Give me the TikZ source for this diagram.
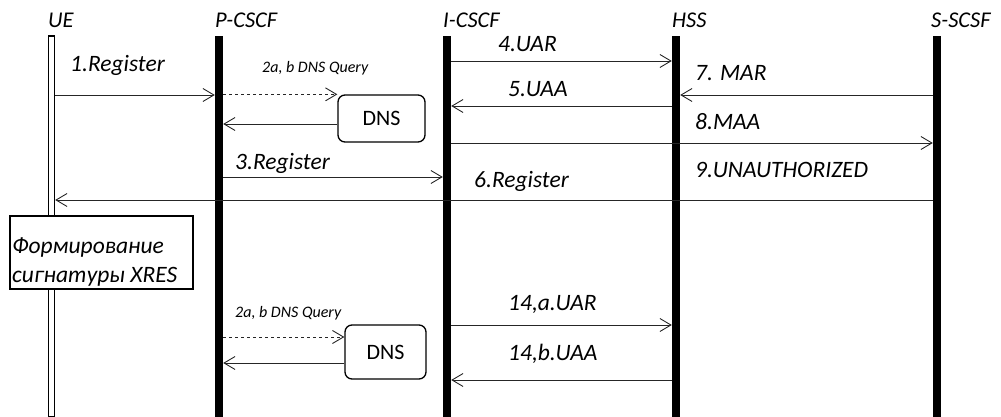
\documentclass[tikz,border=0pt]{standalone}
\usepackage{fontspec}
\setmainfont{Carlito}
\usetikzlibrary{arrows.meta}
\begin{document}
\begin{tikzpicture}[x=1pt,y=-1pt,
  bar/.style={fill=black,inner sep=0,minimum width=8pt,minimum height=381pt},
  uebar/.style={draw=black,line width=1.4pt,fill=white,inner sep=0,minimum width=6pt,minimum height=381pt},
  head/.style={anchor=base west,inner sep=0,font=\fontsize{22.5}{26}\selectfont\itshape},
  lbl/.style={anchor=base west,inner sep=0,font=\fontsize{23.5}{27}\selectfont\itshape},
  smalllbl/.style={anchor=base west,inner sep=0,font=\fontsize{16}{19}\selectfont\itshape},
  msg/.style={draw=black!85,line width=0.9pt,-{Straight Barb[length=11pt,width=13pt,line width=0.9pt]}},
  dmsg/.style={msg,dashed},
  dnsbox/.style={draw,line width=1.3pt,rounded corners=7pt,inner sep=0,font=\fontsize{22}{25}\selectfont},
  notebox/.style={draw,line width=1.3pt,fill=white,inner sep=0,minimum width=183pt,minimum height=73pt}
]
\useasboundingbox (0,0) rectangle (1001,417);
% lifelines
\node[uebar] (ue) at (51.5,226.5) {};
\node[bar] (p) at (219,226.5) {};
\node[bar] (i) at (447,226.5) {};
\node[bar] (h) at (676,226.5) {};
\node[bar] (s) at (937,226.5) {};
% headers
\node[head] (hue) at (48,28) {UE};
\node[head] (hp) at (215,28) {P-CSCF};
\node[head] (hi) at (443,28) {I-CSCF};
\node[head] (hh) at (672,28) {HSS};
\node[head] (hs) at (931,28) {S-SCSF};
% DNS boxes
\node[dnsbox,minimum width=87pt,minimum height=47pt] (dns1) at (381.5,118.5) {DNS};
\node[dnsbox,minimum width=81pt,minimum height=54pt] (dns2) at (385.5,352) {DNS};
% messages
\draw[msg] (ue.east |- 0,95) -- (p.west |- 0,95);
\node[lbl] (l1) at (70,72) {1.Register};
\draw[dmsg] (p.east |- dns1.north west) -- (dns1.north west);
\node[smalllbl] (l2) at (262,73) {2a, b DNS Query};
\draw[msg] (dns1.west |- 0,124) -- (p.east |- 0,124);
\draw[msg] (p.east |- 0,177) -- (i.west |- 0,177);
\node[lbl] (l3) at (235,169) {3.Register};
\draw[msg] (i.east |- 0,61) -- (h.west |- 0,61);
\node[lbl] (l4) at (498,52) {4.UAR};
\draw[msg] (h.west |- 0,106) -- (i.east |- 0,106);
\node[lbl] (l5) at (508,97) {5.UAA};
\draw[msg] (s.west |- 0,95) -- (h.east |- 0,95);
\node[lbl] (l7) at (695,81) {7. MAR};
\draw[msg] (i.east |- 0,143) -- (s.west |- 0,143);
\node[lbl] (l8) at (695,130) {8.MAA};
\draw[msg] (s.west |- 0,200) -- (ue.east |- 0,200);
\node[lbl] (l9) at (695,177) {9.UNAUTHORIZED};
\node[lbl] (l6) at (474,187) {6.Register};
% note
\node[notebox] (note) at (101.5,252.5) {};
\node[lbl] (n1) at (12,253) {Формирование};
\node[lbl] (n2) at (12,282) {сигнатуры XRES};
% second part
\draw[dmsg] (p.east |- 0,337) -- (dns2.west |- 0,337);
\node[smalllbl] (l2b) at (235,317) {2a, b DNS Query};
\draw[msg] (dns2.west |- 0,363) -- (p.east |- 0,363);
\draw[msg] (i.east |- 0,325) -- (h.west |- 0,325);
\node[lbl] (l14a) at (508,310) {14,a.UAR};
\draw[msg] (h.west |- 0,380) -- (i.east |- 0,380);
\node[lbl] (l14b) at (508,360) {14,b.UAA};
\end{tikzpicture}
\end{document}
